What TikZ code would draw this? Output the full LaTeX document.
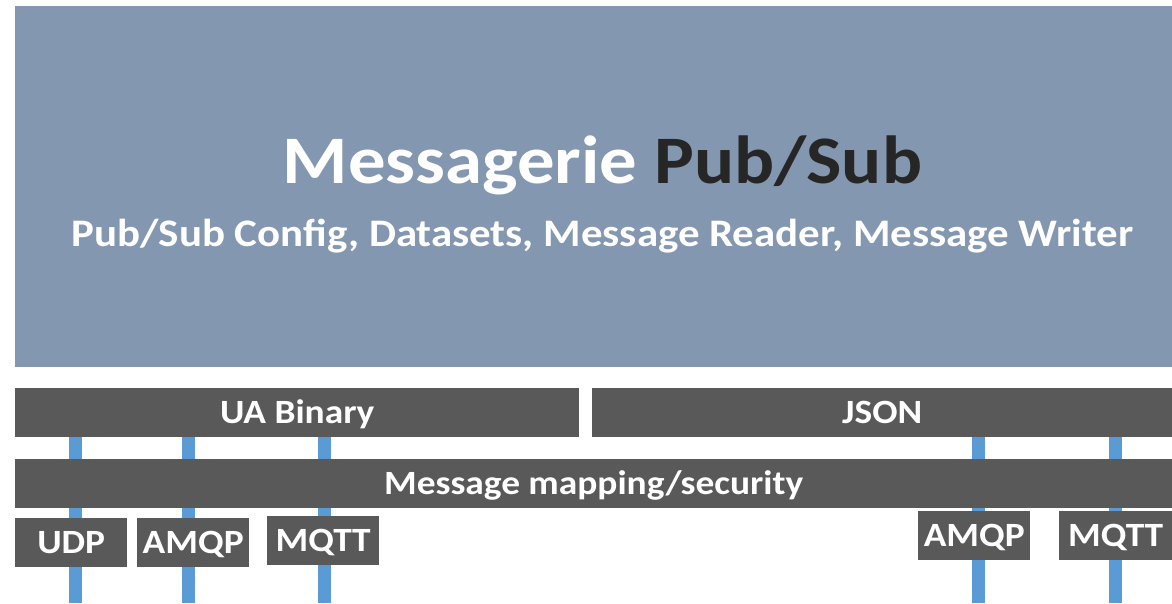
\documentclass[tikz,border=0pt]{standalone}
\usepackage{graphicx}
\usepackage{fontspec}
\setmainfont{Carlito}
\usetikzlibrary{backgrounds}
\definecolor{slate}{HTML}{8497B0}
\definecolor{barfill}{HTML}{595959}
\definecolor{wire}{HTML}{5B9BD5}
\definecolor{ink}{HTML}{262626}
% labels are set slightly widened
\newcommand\wide[1]{\scalebox{1.1}[1]{#1}}
\begin{document}
\begin{tikzpicture}[x=1pt,y=-1pt,
  panel/.style={fill=slate, inner sep=0pt, anchor=north west},
  block/.style={fill=barfill, text=white, inner sep=0pt, anchor=north west,
    font=\fontsize{34}{34}\selectfont\bfseries, text height=22pt, text depth=0pt},
  wireline/.style={draw=wire, line width=13pt}]
\useasboundingbox (0,0) rectangle (1172,603);

% upper panel with its titles
\node[panel, minimum width=1157pt, minimum height=361pt] (top) at (15,6) {};
\node[text=white, anchor=base, inner sep=0pt,
  font=\fontsize{68}{68}\selectfont\bfseries] (title) at (602.5,183)
  {\wide{Messagerie \textcolor{ink}{Pub/Sub}}};
\node[text=white, anchor=base, inner sep=0pt,
  font=\fontsize{39}{39}\selectfont\bfseries] (sub) at (602.5,246)
  {\wide{Pub/Sub Config, Datasets, Message Reader, Message Writer}};

% encoding bars
\node[block, minimum width=564pt, minimum height=49pt] (ua) at (15,388) {\wide{UA Binary}};
\node[block, minimum width=580pt, minimum height=49pt] (json) at (592,388) {\wide{JSON}};
\node[block, minimum width=1157pt, minimum height=49pt] (map) at (15,459) {\wide{Message mapping/security}};

% transports
\node[block, minimum width=112pt, minimum height=49pt] (udp) at (15,518) {\wide{UDP}};
\node[block, minimum width=112pt, minimum height=49pt] (amqpa) at (137,518) {\wide{AMQP}};
\node[block, minimum width=112pt, minimum height=49pt] (mqtta) at (267,516) {\wide{MQTT}};
\node[block, minimum width=112pt, minimum height=49pt] (amqpb) at (918,511) {\wide{AMQP}};
\node[block, minimum width=113pt, minimum height=49pt] (mqttb) at (1059,511) {\wide{MQTT}};

% wire ends at the lower edge
\coordinate (w1) at (75,603);
\coordinate (w2) at (188,603);
\coordinate (w3) at (324,603);
\coordinate (w4) at (978.5,603);
\coordinate (w5) at (1115,603);

\begin{scope}[on background layer]
  \draw[wireline] (ua.south -| w1) -- (w1);
  \draw[wireline] (ua.south -| w2) -- (w2);
  \draw[wireline] (ua.south -| w3) -- (w3);
  \draw[wireline] (json.south -| w4) -- (w4);
  \draw[wireline] (json.south -| w5) -- (w5);
\end{scope}
\end{tikzpicture}
\end{document}
